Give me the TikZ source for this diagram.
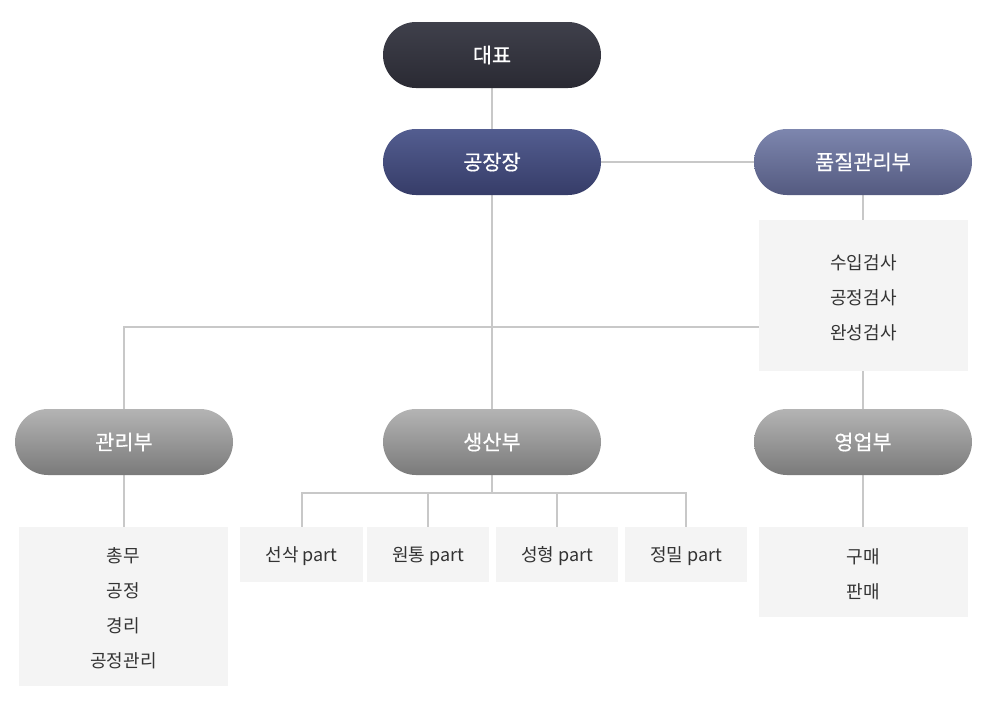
\documentclass[tikz,border=0pt]{standalone}
\usepackage{fontspec}
\setmainfont{Noto Sans CJK KR}
\newfontfamily\pillfont{Noto Sans CJK KR}[FakeBold=0.5]
\usetikzlibrary{backgrounds}
\definecolor{lineC}{HTML}{C8C8C8}
\definecolor{boxC}{HTML}{F4F4F4}
\definecolor{txtC}{HTML}{333333}
\definecolor{cDarkT}{HTML}{3F404B}
\definecolor{cDarkB}{HTML}{2A2A33}
\definecolor{cNavyT}{HTML}{535D90}
\definecolor{cNavyB}{HTML}{363C68}
\definecolor{cLightT}{HTML}{7D86AE}
\definecolor{cLightB}{HTML}{545A80}
\definecolor{cGrayT}{HTML}{B4B4B4}
\definecolor{cGrayB}{HTML}{7A7A7A}
\newcommand{\lowtxt}[1]{\raisebox{-2pt}[\height][\depth]{#1}}
\begin{document}
\begin{tikzpicture}[x=1pt,y=-1pt,
  pill/.style={rectangle, rounded corners=33pt, minimum width=218pt, minimum height=66pt,
    inner sep=0pt, text=white, font=\pillfont\fontsize{20.8}{24}\selectfont},
  pdark/.style={pill, top color=cDarkT, bottom color=cDarkB},
  pnavy/.style={pill, top color=cNavyT, bottom color=cNavyB},
  plight/.style={pill, top color=cLightT, bottom color=cLightB},
  pgray/.style={pill, top color=cGrayT, bottom color=cGrayB},
  infobox/.style={rectangle, fill=boxC, inner sep=0pt, align=center, text=txtC,
    font=\fontsize{18}{35}\selectfont},
  conn/.style={draw=lineC, line width=2pt}
]
\useasboundingbox (0,0) rectangle (986,713);

\node[pdark]  (ceo)   at (492,55)  {대표};
\node[pnavy]  (fm)    at (492,162) {공장장};
\node[plight] (qa)    at (863,162) {품질관리부};
\node[infobox, minimum width=209pt, minimum height=151pt] (qabox) at (863.5,295.5) {\lowtxt{\parbox{100pt}{\centering 수입검사\\공정검사\\완성검사}}};
\node[pgray]  (admin) at (124,442) {관리부};
\node[pgray]  (prod)  at (492,442) {생산부};
\node[pgray]  (sales) at (863,442) {영업부};
\node[infobox, minimum width=209pt, minimum height=159pt] (adminbox) at (123.5,606.5) {\lowtxt{\parbox{100pt}{\centering 총무\\공정\\경리\\공정관리}}};
\node[infobox, minimum width=209pt, minimum height=90pt] (salesbox) at (863.5,572) {\lowtxt{\parbox{100pt}{\centering 구매\\판매}}};
\node[infobox, minimum width=123pt, minimum height=55pt] (p1) at (301.5,554.5) {\lowtxt{선삭 part}};
\node[infobox, minimum width=122pt, minimum height=55pt] (p2) at (428,554.5) {\lowtxt{원통 part}};
\node[infobox, minimum width=122pt, minimum height=55pt] (p3) at (557,554.5) {\lowtxt{성형 part}};
\node[infobox, minimum width=122pt, minimum height=55pt] (p4) at (686,554.5) {\lowtxt{정밀 part}};

\coordinate (hj) at (759,327);
\coordinate (pj) at (492,493);

\begin{scope}[on background layer]
\fill[white] (0,0) rectangle (986,713);
\draw[conn] (ceo.south) -- (fm.north);
\draw[conn] (fm.east) -- (qa.west);
\draw[conn] (qa.south) -- (qa.south |- qabox.north);
\draw[conn] (sales.north) -- (sales.north |- qabox.south);
\draw[conn] (fm.south) -- (prod.north);
\draw[conn] (admin.north) |- (hj);
\draw[conn] (admin.south) -- (admin.south |- adminbox.north);
\draw[conn] (sales.south) -- (sales.south |- salesbox.north);
\draw[conn] (prod.south) -- (pj);
\draw[conn] (p1.north) |- (pj) -| (p4.north);
\draw[conn] (p2.north) -- (p2.north |- pj);
\draw[conn] (p3.north) -- (p3.north |- pj);
\end{scope}
\end{tikzpicture}
\end{document}
